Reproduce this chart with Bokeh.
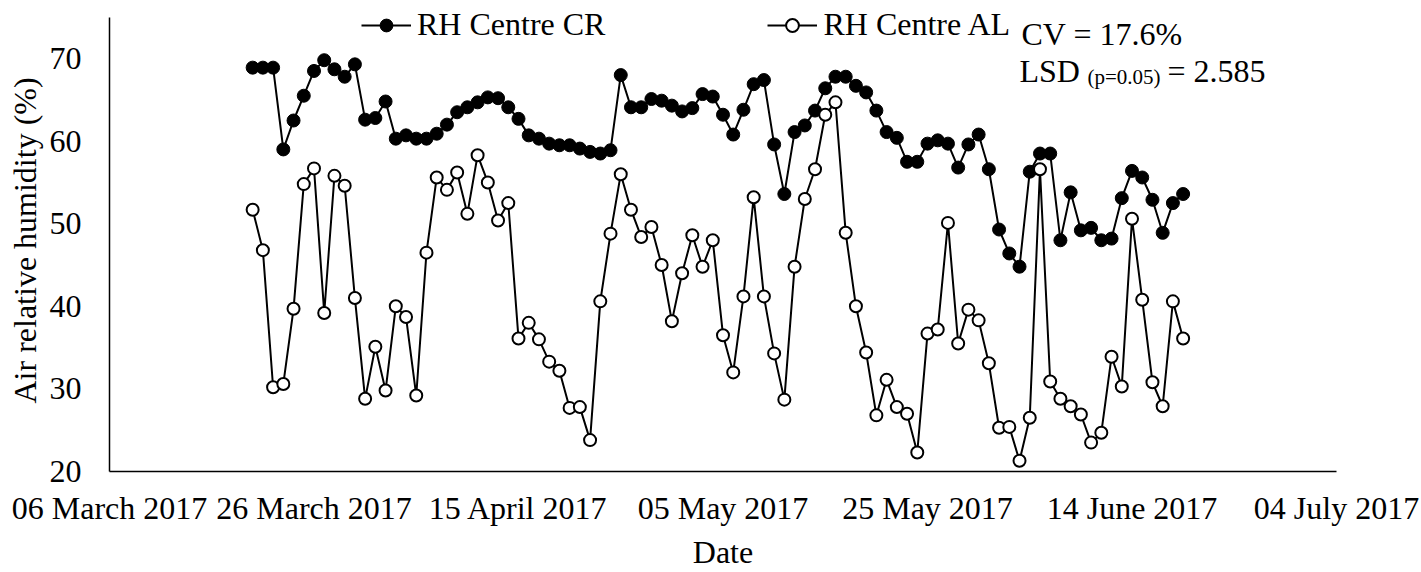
import pandas as pd
from datetime import datetime
from bokeh.plotting import figure
from bokeh.models import (Range1d, FixedTicker, DatetimeTickFormatter, Legend,
                          LegendItem, Label, ColumnDataSource, Title)
from bokeh.embed import file_html
from bokeh.resources import INLINE

# ---------------- data ----------------
first_day = "2017-03-20"
rh_centre_cr = [68.9, 68.9, 68.9, 59.0, 62.5, 65.5, 68.5, 69.8, 68.7, 67.8,
                69.3, 62.6, 62.8, 64.8, 60.3, 60.7, 60.3, 60.3, 60.9, 62.0,
                63.5, 64.1, 64.7, 65.3, 65.2, 64.1, 62.7, 60.7, 60.3, 59.7,
                59.5, 59.5, 59.1, 58.7, 58.5, 58.9, 68.0, 64.1, 64.1, 65.1,
                64.9, 64.3, 63.6, 64.0, 65.7, 65.4, 63.2, 60.8, 63.8, 66.9,
                67.4, 59.6, 53.6, 61.1, 61.9, 63.7, 66.4, 67.8, 67.8, 66.7,
                65.9, 63.7, 61.1, 60.4, 57.5, 57.5, 59.7, 60.1, 59.7, 56.8,
                59.6, 60.8, 56.6, 49.3, 46.4, 44.8, 56.3, 58.5, 58.5, 48.0,
                53.8, 49.2, 49.5, 48.0, 48.2, 53.1, 56.4, 55.6, 52.9, 48.9,
                52.5, 53.6]
rh_centre_al = [51.7, 46.8, 30.2, 30.6, 39.7, 54.8, 56.7, 39.2, 55.8, 54.6,
                41.0, 28.8, 35.1, 29.8, 40.0, 38.7, 29.2, 46.5, 55.6, 54.1,
                56.2, 51.2, 58.3, 55.0, 50.4, 52.5, 36.1, 38.0, 36.0, 33.3,
                32.2, 27.7, 27.8, 23.8, 40.6, 48.8, 56.0, 51.7, 48.4, 49.6,
                45.0, 38.2, 44.0, 48.6, 44.8, 48.0, 36.5, 32.0, 41.2, 53.2,
                41.2, 34.3, 28.7, 44.8, 53.0, 56.6, 63.2, 64.7, 48.9, 40.0,
                34.4, 26.8, 31.1, 27.8, 27.0, 22.3, 36.7, 37.2, 50.1, 35.5,
                39.6, 38.3, 33.1, 25.3, 25.4, 21.3, 26.5, 56.6, 30.9, 28.8,
                27.9, 26.9, 23.5, 24.7, 33.9, 30.3, 50.6, 40.8, 30.8, 27.9,
                40.6, 36.1]
x_tick_dates = ["2017-03-06", "2017-03-26", "2017-04-15", "2017-05-05",
                "2017-05-25", "2017-06-14", "2017-07-04"]
y_ticks = [20, 30, 40, 50, 60, 70]
y_axis_span = (20, 75)
series_labels = ["RH Centre CR", "RH Centre AL"]
x_title = "Date"
y_title = "Air relative humidity (%)"
cv_text = "CV = 17.6%"
lsd_main = "LSD"
lsd_sub = "(p=0.05)"
lsd_value = "= 2.585"

FONT = "Liberation Serif"
FS = "32px"

dates = pd.date_range(first_day, periods=len(rh_centre_cr), freq="D")
src = ColumnDataSource(dict(date=dates, cr=rh_centre_cr, al=rh_centre_al))

# plot frame reaches the top edge so the legend is not clipped; the y axis
# line itself is bounded to 20..75 (the extra 17 px on top = 2.03 units)
p = figure(width=1421, height=572, output_backend="svg", toolbar_location=None,
           title=None, x_axis_type="datetime",
           x_range=Range1d(datetime(2017, 3, 6), datetime(2017, 7, 4)),
           y_range=Range1d(y_axis_span[0], y_axis_span[1] + 2.03),
           min_border_left=109, min_border_right=85,
           min_border_top=0, min_border_bottom=94)
p.outline_line_color = None
p.grid.visible = False
p.background_fill_color = "white"
p.border_fill_color = "white"

# axes
xa = p.xaxis[0]
xa.ticker = FixedTicker(ticks=[pd.Timestamp(d).value / 1e6 for d in x_tick_dates])
fmt = "%d %B %Y"
xa.formatter = DatetimeTickFormatter(days=fmt, months=fmt, years=fmt, hours=fmt,
                                     hourmin=fmt, minutes=fmt, minsec=fmt,
                                     seconds=fmt, milliseconds=fmt,
                                     microseconds=fmt)
ya = p.yaxis[0]
ya.ticker = FixedTicker(ticks=y_ticks)
ya.bounds = y_axis_span
for ax in (xa, ya):
    ax.axis_line_color = "black"
    ax.axis_line_width = 1.5
    ax.major_tick_out = 0
    ax.major_tick_in = 0
    ax.minor_tick_out = 0
    ax.minor_tick_in = 0
    ax.major_label_text_font = FONT
    ax.major_label_text_font_size = FS
    ax.major_label_text_color = "black"
    ax.axis_label_text_font = FONT
    ax.axis_label_text_font_size = FS
    ax.axis_label_text_font_style = "normal"
    ax.axis_label_text_color = "black"
xa.major_label_standoff = 18
xa.axis_label = x_title
xa.axis_label_standoff = 5
ya.major_label_standoff = 28

# y axis title, centred on the bounded axis line
p.add_layout(Title(text=y_title, align="left", offset=68, standoff=6,
                   vertical_align="middle", text_font=FONT,
                   text_font_size=FS, text_font_style="normal",
                   text_color="black"), "left")

# series
l1 = p.line("date", "cr", source=src, line_color="black", line_width=2)
s1 = p.scatter("date", "cr", source=src, size=13, fill_color="black",
               line_color="black", line_width=1)
l2 = p.line("date", "al", source=src, line_color="black", line_width=2)
s2 = p.scatter("date", "al", source=src, size=12, fill_color="white",
               line_color="black", line_width=2)

legend = Legend(items=[LegendItem(label=series_labels[0], renderers=[l1, s1]),
                       LegendItem(label=series_labels[1], renderers=[l2, s2])],
                orientation="horizontal", location=(252, 428),
                glyph_width=50, glyph_height=32, label_standoff=6,
                spacing=162, padding=0, margin=0,
                border_line_color=None, background_fill_alpha=0,
                label_text_font=FONT, label_text_font_size=FS,
                label_text_color="black")
p.add_layout(legend, "center")

def lab(text, x, y, size=FS):
    p.add_layout(Label(x=x, y=y, x_units="screen", y_units="screen", text=text,
                       text_font=FONT, text_font_size=size, text_color="black",
                       text_align="left", text_baseline="alphabetic"))

lab(cv_text, 912, 437.5)
lab(lsd_main, 910, 401)
lab(lsd_sub, 978, 395, size="21px")
lab(lsd_value, 1058, 401)

open("out.html", "w").write(file_html(p, INLINE))
